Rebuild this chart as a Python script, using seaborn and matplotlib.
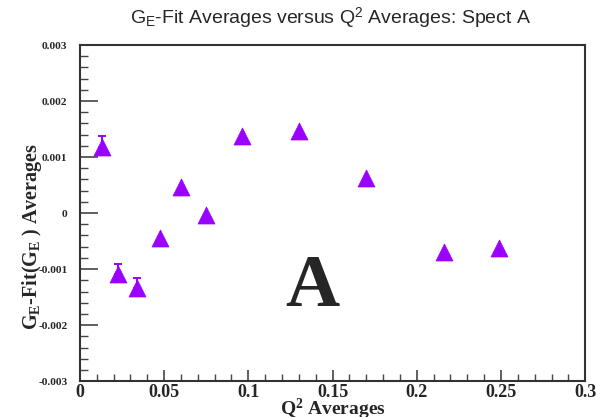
import numpy as np
import pandas as pd
import matplotlib
matplotlib.use("Agg")
import matplotlib.pyplot as plt
from matplotlib.ticker import MultipleLocator
import seaborn as sns

# Averaged Q^2 bins and residuals G_E - Fit(G_E)
q2_avg = [0.0131, 0.0226, 0.0339, 0.0476, 0.0601, 0.0750, 0.0964, 0.1298, 0.1700, 0.2160, 0.2490]
ge_resid = [0.00118, -0.00108, -0.00134, -0.00045, 0.00046, -0.00004, 0.00138, 0.00147, 0.00062, -0.00069, -0.00062]
# upper uncertainty; the bars that fit inside the marker are not drawn
ge_err_up = [0.00020, 0.00017, 0.00018, 0.0, 0.0, 0.0, 0.0, 0.0, 0.0, 0.0, 0.0]

x_ticks = [0, 0.05, 0.1, 0.15, 0.2, 0.25, 0.3]
x_tick_labels = ["0", "0.05", "0.1", "0.15", "0.2", "0.25", "0.3"]
y_ticks = [-0.003, -0.002, -0.001, 0, 0.001, 0.002, 0.003]
y_tick_labels = ["-0.003", "-0.002", "-0.001", "0", "0.001", "0.002", "0.003"]

df = pd.DataFrame({"q2": q2_avg, "resid": ge_resid, "err_up": ge_err_up})

sns.set_style("ticks")
plt.rcParams["font.family"] = ["Liberation Serif", "DejaVu Serif"]
plt.rcParams["mathtext.fontset"] = "custom"
plt.rcParams["mathtext.rm"] = "Liberation Serif"
plt.rcParams["mathtext.bf"] = "Liberation Serif:bold"
plt.rcParams["mathtext.it"] = "Liberation Serif:italic"

color = "#9a00ff"
fig = plt.figure(figsize=(5.96, 4.17), dpi=100)
ax = fig.add_axes([0.134, 0.086, 0.848, 0.806])

bars = df[df["err_up"] > 0]
ax.errorbar(bars["q2"], bars["resid"],
            yerr=[np.zeros(len(bars)), bars["err_up"]], fmt="none", ecolor=color,
            elinewidth=1.4, capsize=3.0, capthick=1.4, zorder=2)
sns.scatterplot(data=df, x="q2", y="resid", marker="^", s=150, color=color,
                edgecolor=color, linewidth=0.5, ax=ax, zorder=3, legend=False)

ax.set_xlim(0, 0.3)
ax.set_ylim(-0.003, 0.003)
ax.set_xticks(x_ticks)
ax.set_xticklabels(x_tick_labels, fontsize=13, fontweight="bold")
ax.set_yticks(y_ticks)
ax.set_yticklabels(y_tick_labels, fontsize=8.2, fontweight="bold")
ax.xaxis.set_minor_locator(MultipleLocator(0.01))
ax.yaxis.set_minor_locator(MultipleLocator(0.0002))

ax.tick_params(axis="x", which="major", direction="in", length=8, width=1.2,
               color="#444444", pad=2)
ax.tick_params(axis="x", which="minor", direction="in", length=5, width=1.0,
               color="#444444")
ax.tick_params(axis="y", which="major", direction="in", length=13, width=1.2,
               color="#444444", pad=9)
ax.tick_params(axis="y", which="minor", direction="in", length=6, width=1.0,
               color="#444444")
ax.tick_params(top=False, right=False, which="both")

for side in ["left", "right", "top", "bottom"]:
    ax.spines[side].set_visible(True)
    ax.spines[side].set_color("#333333")
    ax.spines[side].set_linewidth(1.5)

ax.set_xlabel(r"Q$^{\mathbf{2}}$ Averages", fontsize=14, fontweight="bold")
ax.set_ylabel(r"G$_{\mathbf{E}}$-Fit(G$_{\mathbf{E}}$ ) Averages", fontsize=14.5,
              fontweight="bold")
ax.yaxis.set_label_coords(-0.071, 0.43)
ax.xaxis.set_label_coords(0.5, -0.048)

fig.text(0.555, 0.955, r"G$_\mathregular{E}$-Fit Averages versus Q$^\mathregular{2}$ Averages: Spect A",
         ha="center", va="center", fontsize=14, family=["Liberation Sans", "DejaVu Sans"])

ax.text(0.138, -0.00133, "A", ha="center", va="center", fontsize=54,
        fontweight="bold")

fig.savefig("out.png", dpi=100)
